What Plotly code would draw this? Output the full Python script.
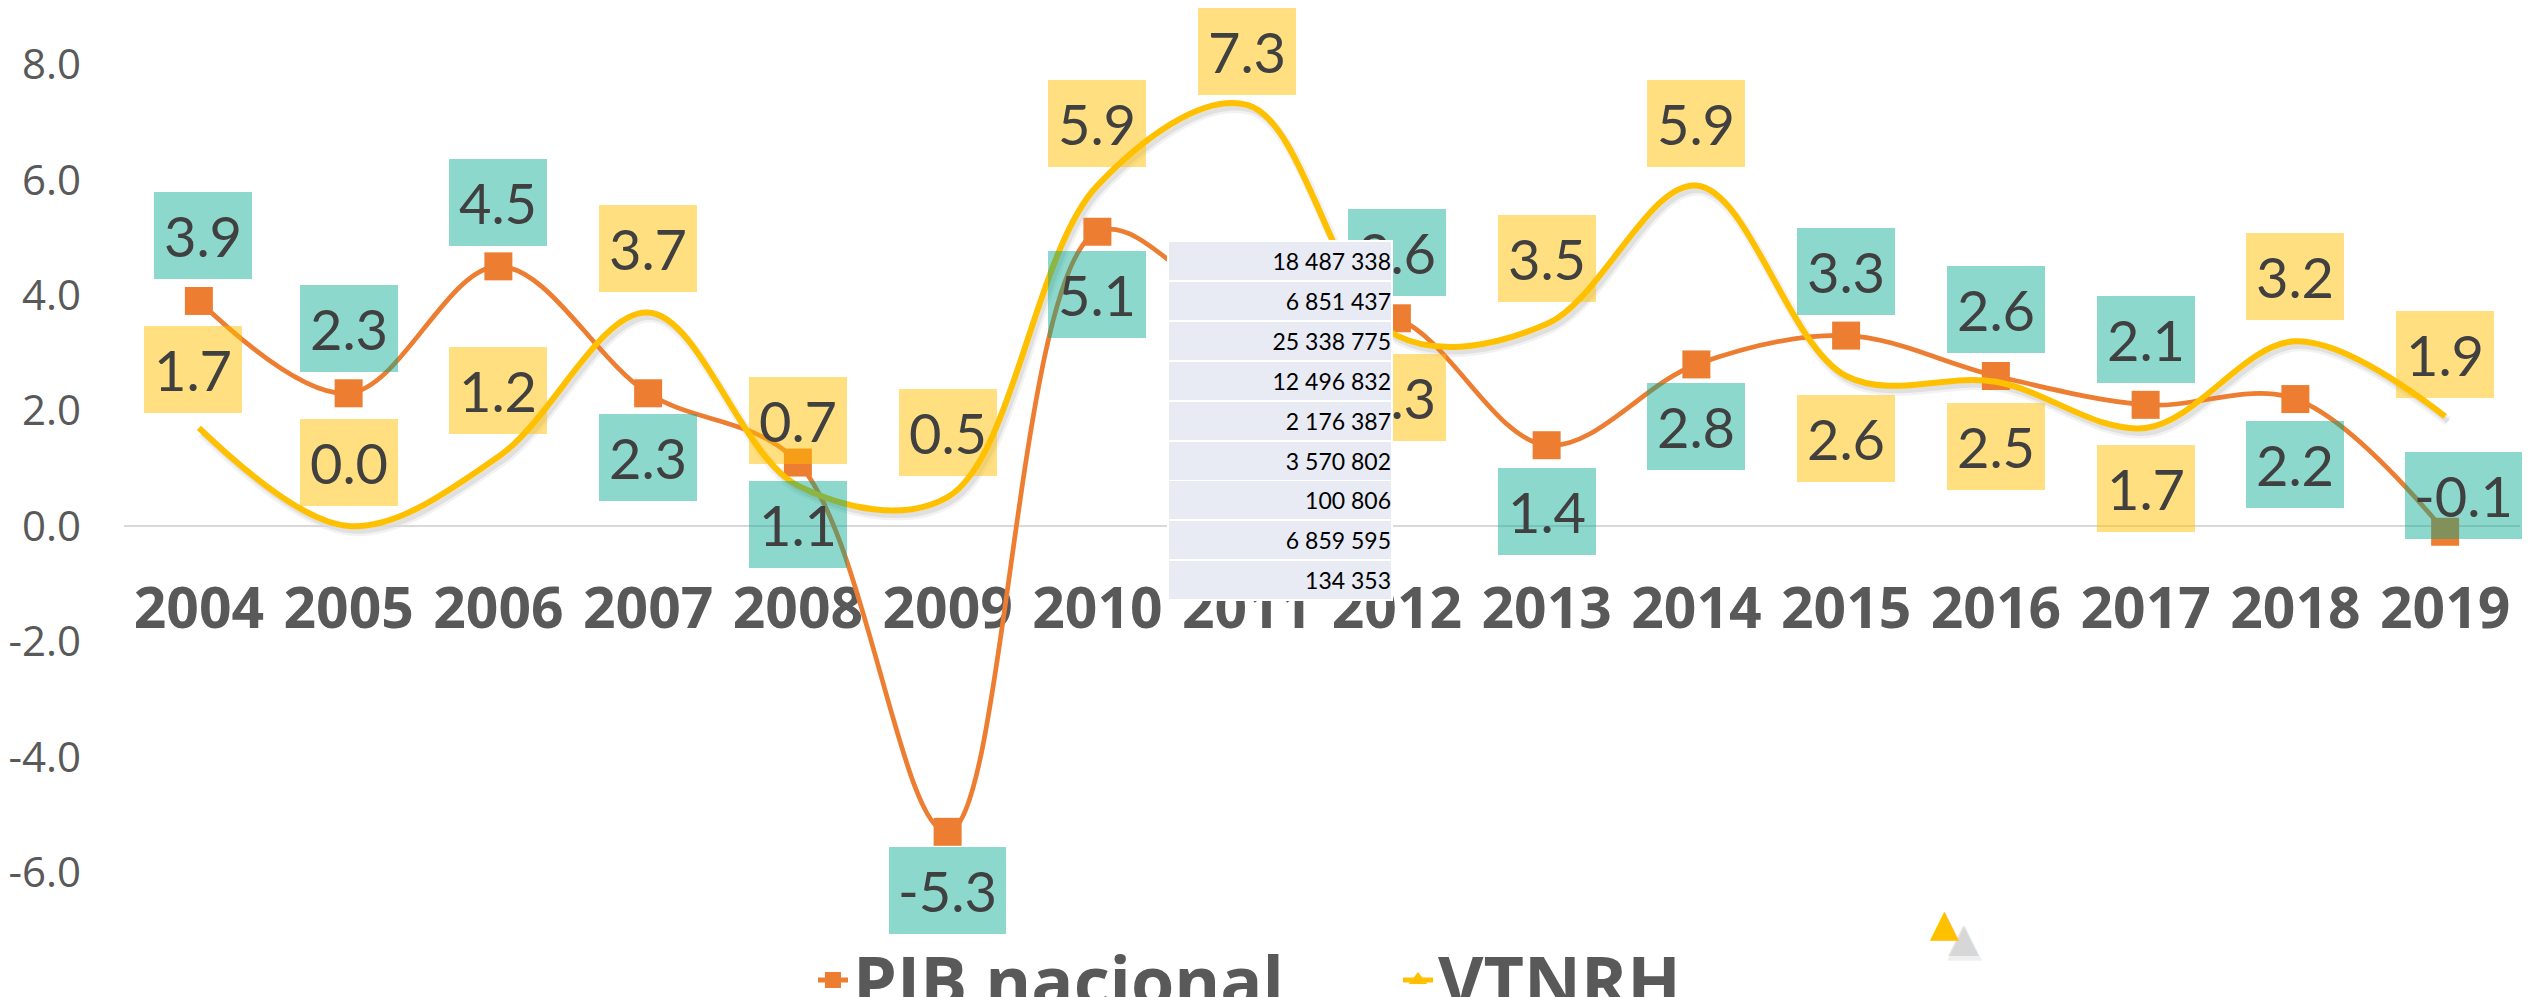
import plotly.graph_objects as go

# ---------------- data ----------------
YEARS = ["2004", "2005", "2006", "2007", "2008", "2009", "2010", "2011",
         "2012", "2013", "2014", "2015", "2016", "2017", "2018", "2019"]
PIB_NACIONAL = [3.9, 2.3, 4.5, 2.3, 1.1, -5.3, 5.1, 3.7, 3.6, 1.4, 2.8, 3.3, 2.6, 2.1, 2.2, -0.1]
VTNRH = [1.7, 0.0, 1.2, 3.7, 0.7, 0.5, 5.9, 7.3, 3.3, 3.5, 5.9, 2.6, 2.5, 1.7, 3.2, 1.9]
SERIES_NAMES = ["PIB nacional", "VTNRH"]
TABLE_VALUES = ["18 487 338", "6 851 437", "25 338 775", "12 496 832", "2 176 387",
                "3 570 802", "100 806", "6 859 595", "134 353"]
Y_TICKS = [-6, -4, -2, 0, 2, 4, 6, 8]

# ---------------- label placement (px offsets, negative = up) ----------------
PIB_LABEL_DY = [-65, -65, -64, 64, 62, 59, 63, 64, -66, 66, 62, -64, -66, -65, 65, -36]
PIB_LABEL_DX = [4, 0, 0, 0, 0, 0, 0, 0, 0, 0, 0, 0, 0, 0, 0, 18]
VT_LABEL_DY = [-58, -64, -66, -64, -65, -65, -62, -53, 62, -66, -62, 63, 65, 61, -65, -62]
VT_LABEL_DX = [-6, 0, 0, 0, 0, 0, 0, 0, 0, 0, 0, 0, 0, 0, 0, 0]

# ---------------- geometry ----------------
W, H = 2529, 997
ML, MR, MT, MB = 124, 6, 0, 0
PW, PH = W - ML - MR, H - MT - MB
SH_X, SH_Y = 3, 5  # shadow offset in px
Y_RANGE = [-8.076, 9.116]
X_RANGE = [-0.5, len(YEARS) - 0.5]

ORANGE = "#ED7D31"
YELLOW = "#FFC000"
TEAL_BOX = "rgba(0,169,144,0.45)"
YELLOW_BOX = "rgba(255,192,0,0.5)"
GREY_TXT = "#595959"
LABEL_TXT = "#404040"

dom_y0 = SH_Y / PH
dom_x1 = 1 - SH_X / PW
zero_pos = dom_y0 + (0 - Y_RANGE[0]) / (Y_RANGE[1] - Y_RANGE[0]) * (1 - dom_y0)


def px_x(p):
    return (p - ML) / PW


def px_y(p):
    return 1 - (p - MT) / PH


fig = go.Figure()

# soft shadow of the VTNRH line (drawn on a slightly shifted copy of the axes)
fig.add_trace(go.Scatter(x=YEARS, y=VTNRH, mode="lines", xaxis="x", yaxis="y",
                         line=dict(color="rgba(0,0,0,0.05)", width=10, shape="spline", smoothing=1),
                         showlegend=False, hoverinfo="skip"))
fig.add_trace(go.Scatter(x=YEARS, y=VTNRH, mode="lines", xaxis="x", yaxis="y",
                         line=dict(color="rgba(0,0,0,0.07)", width=5, shape="spline", smoothing=1),
                         showlegend=False, hoverinfo="skip"))

# main series
fig.add_trace(go.Scatter(x=YEARS, y=PIB_NACIONAL, mode="lines+markers", xaxis="x2", yaxis="y2",
                         line=dict(color=ORANGE, width=4.7, shape="spline", smoothing=1),
                         marker=dict(symbol="square", size=28, color=ORANGE),
                         showlegend=False, name=SERIES_NAMES[0]))
fig.add_trace(go.Scatter(x=YEARS, y=VTNRH, mode="lines", xaxis="x2", yaxis="y2",
                         line=dict(color=YELLOW, width=6, shape="spline", smoothing=1),
                         showlegend=False, name=SERIES_NAMES[1]))

# legend entries
fig.add_trace(go.Scatter(x=[None], y=[None], mode="lines+markers", xaxis="x2", yaxis="y2",
                         name=SERIES_NAMES[0], line=dict(color=ORANGE, width=5),
                         marker=dict(symbol="square", size=28, color=ORANGE)))
fig.add_trace(go.Scatter(x=[None], y=[None], mode="lines+markers", xaxis="x2", yaxis="y2",
                         name=SERIES_NAMES[1], line=dict(color=YELLOW, width=5),
                         marker=dict(symbol="triangle-up", size=28, color=YELLOW)))

annotations = []


def fmt(v):
    return f"{v:.1f}"


for i, yr in enumerate(YEARS):
    for vals, dys, dxs, box in ((PIB_NACIONAL, PIB_LABEL_DY, PIB_LABEL_DX, TEAL_BOX),
                                (VTNRH, VT_LABEL_DY, VT_LABEL_DX, YELLOW_BOX)):
        t = fmt(vals[i])
        annotations.append(dict(
            x=i, y=vals[i], xref="x2", yref="y2", text=t, showarrow=False,
            xshift=dxs[i], yshift=-dys[i], xanchor="center", yanchor="middle",
            width=98 if len(t) <= 3 else 117, height=87, bgcolor=box,
            borderwidth=0, borderpad=0, valign="middle", align="center",
            font=dict(family="Lato", size=56, color=LABEL_TXT)))

# overlay table (white backing, then the cells)
TBL_LEFT, TBL_TOP, TBL_W, ROW_PITCH, ROW_H = 1169, 242, 222, 39.9, 37.5
annotations.append(dict(
    x=px_x(TBL_LEFT - 2), y=px_y(TBL_TOP - 2), xref="paper", yref="paper",
    xanchor="left", yanchor="top", text="", showarrow=False,
    width=TBL_W + 4, height=ROW_PITCH * (len(TABLE_VALUES) - 1) + ROW_H + 4,
    bgcolor="#FFFFFF", borderwidth=0, borderpad=0))
for r, val in enumerate(TABLE_VALUES):
    annotations.append(dict(
        x=px_x(TBL_LEFT), y=px_y(TBL_TOP + r * ROW_PITCH), xref="paper", yref="paper",
        xanchor="left", yanchor="top", text=val, showarrow=False,
        width=TBL_W, height=ROW_H, bgcolor="#E8EAF4", borderwidth=0, borderpad=0,
        align="right", valign="middle",
        font=dict(family="Lato", size=23, color="#000000")))

# stray triangle marker with soft shadow
for dx, dy, sz, col in ((20, 16, 46, "rgba(90,90,90,0.10)"), (18, 14, 40, "rgba(90,90,90,0.18)")):
    annotations.append(dict(x=px_x(1945 + dx), y=px_y(923 + dy), xref="paper", yref="paper",
                            text="▲", showarrow=False, xanchor="center", yanchor="middle",
                            font=dict(family="DejaVu Sans", size=sz, color=col)))
annotations.append(dict(x=px_x(1945), y=px_y(923), xref="paper", yref="paper", text="▲",
                        showarrow=False, xanchor="center", yanchor="middle",
                        font=dict(family="DejaVu Sans", size=38, color=YELLOW)))

fig.update_layout(
    width=W, height=H,
    margin=dict(l=ML, r=MR, t=MT, b=MB, autoexpand=False),
    paper_bgcolor="white", plot_bgcolor="rgba(0,0,0,0)",
    font=dict(family="Open Sans", color=GREY_TXT),
    xaxis=dict(domain=[SH_X / PW, 1], range=X_RANGE, type="category", visible=False,
               anchor="y", fixedrange=True),
    yaxis=dict(domain=[0, 1 - dom_y0], range=Y_RANGE, visible=False, anchor="x",
               fixedrange=True),
    xaxis2=dict(domain=[0, dom_x1], range=X_RANGE, type="category",
                categoryorder="array", categoryarray=YEARS,
                anchor="free", position=zero_pos, showline=True, linecolor="#D9D9D9",
                linewidth=2, showgrid=False, zeroline=False, ticks="",
                ticklabelstandoff=33, layer="below traces",
                tickfont=dict(family="Open Sans", size=57, color=GREY_TXT, weight="bold")),
    yaxis2=dict(domain=[dom_y0, 1], range=Y_RANGE, anchor="x2", showgrid=False,
                zeroline=False, showline=False, ticks="",
                tickvals=Y_TICKS, ticktext=[fmt(v) for v in Y_TICKS],
                ticklabelstandoff=42,
                tickfont=dict(family="Open Sans", size=42, color=GREY_TXT)),
    legend=dict(orientation="h", x=px_x(813), xanchor="left", y=px_y(980), yanchor="middle",
                bgcolor="rgba(0,0,0,0)", borderwidth=0,
                entrywidth=540, entrywidthmode="pixels",
                font=dict(family="Open Sans", size=70, color=GREY_TXT, weight="bold")),
    annotations=annotations,
    showlegend=True,
)

fig.write_html("out.html", config={"displayModeBar": False},
               post_script="document.body.style.margin='0';document.body.style.overflow='hidden';")
